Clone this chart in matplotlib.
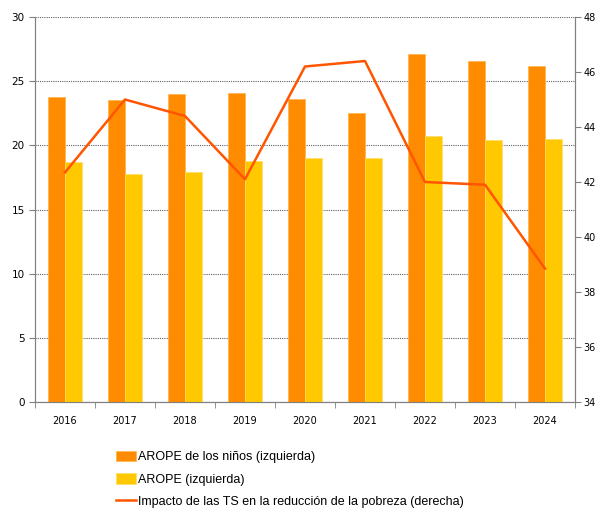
import matplotlib.pyplot as plt
import numpy as np

anios = ["2016", "2017", "2018", "2019", "2020", "2021", "2022", "2023", "2024"]
arope_ninos = [23.8, 23.5, 24.0, 24.1, 23.6, 22.5, 27.1, 26.6, 26.2]
arope = [18.7, 17.8, 17.9, 18.8, 19.0, 19.0, 20.7, 20.4, 20.5]
impacto_ts = [42.35, 45.0, 44.4, 42.1, 46.2, 46.4, 42.0, 41.9, 38.85]

fig = plt.figure(figsize=(5.97, 5.11), dpi=100)
ax = fig.add_axes([0.0586, 0.2133, 0.9046, 0.7534])
ax2 = ax.twinx()

x = np.arange(len(anios))
w = 0.285
b1 = ax.bar(x - w / 2, arope_ninos, w, color="#FF8C00", edgecolor="#FFB347", linewidth=0.5,
            label="AROPE de los niños (izquierda)", zorder=3)
b2 = ax.bar(x + w / 2, arope, w, color="#FFC800", edgecolor="#FFE066", linewidth=0.5,
            label="AROPE (izquierda)", zorder=3)
l1, = ax2.plot(x, impacto_ts, color="#FF5500", linewidth=1.8,
               label="Impacto de las TS en la reducción de la pobreza (derecha)")

ax.set_xlim(-0.5, len(anios) - 0.5)
ax.set_ylim(0, 30)
ax.set_yticks(np.arange(0, 31, 5))
ax2.set_ylim(34, 48)
ax2.set_yticks(np.arange(34, 49, 2))

ax.set_xticks(x)
ax.set_xticklabels(anios)
ax.set_xticks(np.arange(-0.5, len(anios), 1), minor=True)
ax.tick_params(axis="x", which="major", length=0, labelsize=7, pad=10)
ax.tick_params(axis="x", which="minor", length=4, color="#808080")
ax.tick_params(axis="y", labelsize=7.5, length=4, color="#808080")
ax2.tick_params(axis="y", labelsize=7, length=4, pad=2, color="#808080")

ax.yaxis.grid(True, linestyle=(0, (1, 1)), color="#606060", linewidth=0.8, zorder=0)
ax.set_axisbelow(True)

for a in (ax, ax2):
    a.spines["top"].set_visible(False)
    for s in ("left", "right", "bottom"):
        a.spines[s].set_color("#808080")
ax.patch.set_visible(False)
ax2.set_zorder(ax.get_zorder() + 1)
ax.set_zorder(0)

fig.legend(handles=[b1, b2, l1], loc="upper left", bbox_to_anchor=(0.195, 0.118),
           frameon=False, prop={"family": "Liberation Sans", "size": 9},
           handlelength=1.6, handleheight=0.9,
           handletextpad=0.1, labelspacing=0.8, borderaxespad=0, borderpad=0)

plt.savefig("out.png", dpi=100)
